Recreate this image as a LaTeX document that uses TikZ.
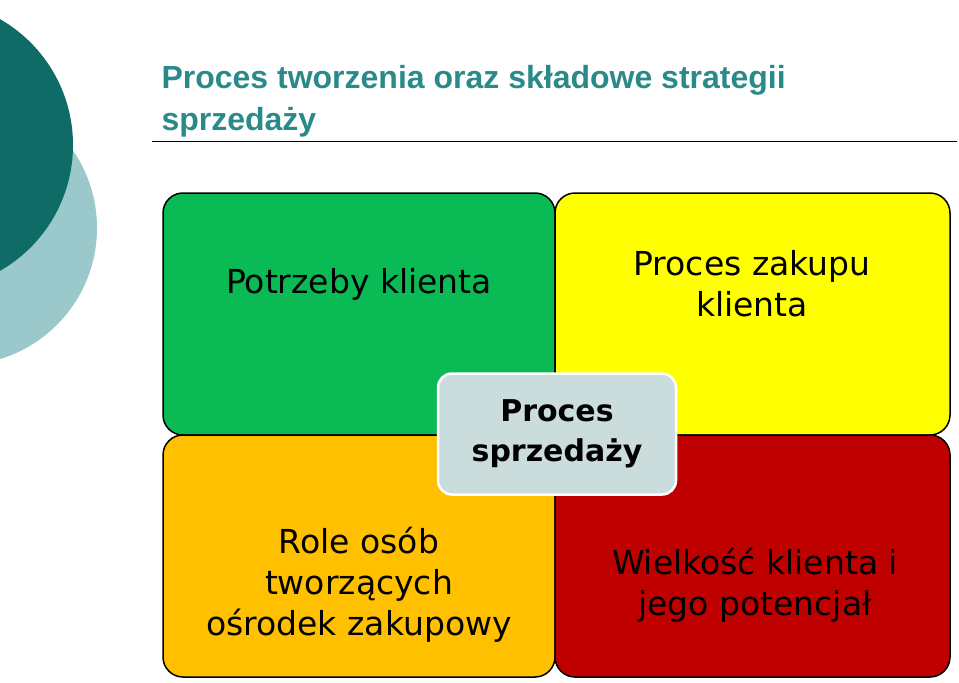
\documentclass[tikz,border=0pt]{standalone}
\usepackage{fontspec}
\setmainfont{Liberation Sans}
\newfontfamily\dvs{DejaVu Sans}
\definecolor{darkteal}{HTML}{0E6B66}
\definecolor{lightteal}{HTML}{9BC8CB}
\definecolor{titlec}{HTML}{2A8A8A}
\definecolor{qgreen}{HTML}{0ABA55}
\definecolor{qyellow}{HTML}{FFFF00}
\definecolor{qorange}{HTML}{FFC000}
\definecolor{qred}{HTML}{BE0000}
\definecolor{cbox}{HTML}{CADCDC}
\begin{document}
\begin{tikzpicture}[x=1pt,y=-1pt,
  quad/.style={draw=black,line width=1.5pt},
  qtext/.style={align=center,font=\dvs\fontsize{33}{41}\selectfont}]
\useasboundingbox (0,0) rectangle (959,683);
\fill[lightteal] (-40,228) circle (137);
\fill[darkteal] (-72,145) circle (145);
\node[anchor=west,text=titlec,align=left,font=\bfseries\fontsize{32}{42}\selectfont] (title) at (158,101) {Proces tworzenia oraz składowe strategii\\sprzedaży};
\draw[line width=1pt] (152,141) -- (957,141);
\draw[quad,fill=qgreen,rounded corners=20pt] (555,435) -- (163,435) -- (163,193) -- (555,193) [sharp corners] -- cycle;
\draw[quad,fill=qyellow,rounded corners=20pt] (555,435) -- (555,193) -- (950,193) -- (950,435) [sharp corners] -- cycle;
\draw[quad,fill=qorange,rounded corners=20pt] (555,435) -- (163,435) -- (163,677) -- (555,677) [sharp corners] -- cycle;
\draw[quad,fill=qred,rounded corners=20pt] (555,435) -- (950,435) -- (950,677) -- (555,677) [sharp corners] -- cycle;
\node[qtext] (q1) at (359,284) {Potrzeby klienta};
\node[qtext] (q2) at (752,284) {Proces zakupu\\klienta};
\node[qtext] (q3) at (359,585) {Role osób\\tworzących\\ośrodek zakupowy};
\node[qtext] (q4) at (755,585) {Wielkość klienta i\\jego potencjał};
\node[draw=white,line width=2.5pt,fill=cbox,rounded corners=14pt,minimum width=238pt,minimum height=121pt,align=center,font=\dvs\bfseries\fontsize{30}{40}\selectfont] (c) at (557,434) {Proces\\sprzedaży};
\end{tikzpicture}
\end{document}
